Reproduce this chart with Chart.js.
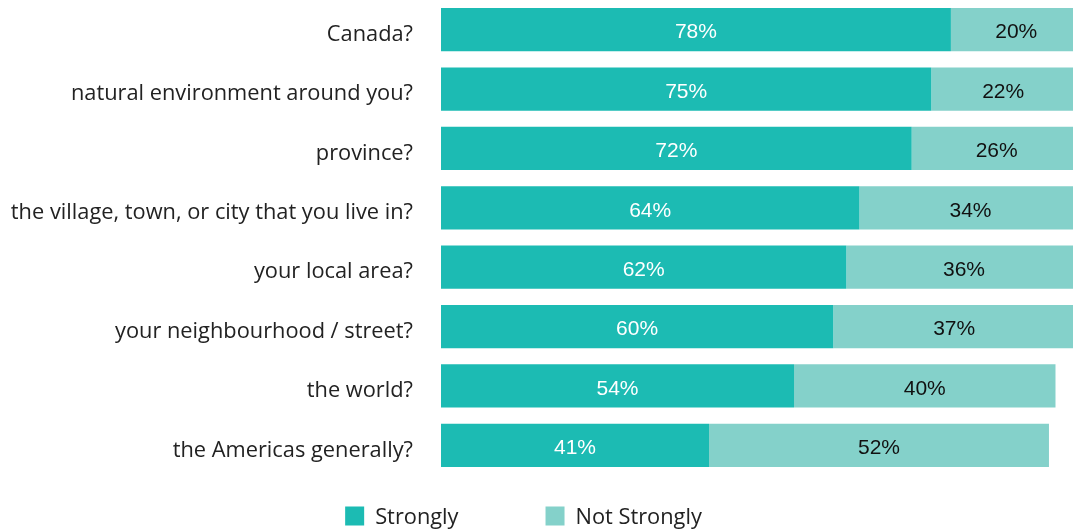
<!DOCTYPE html>
<html>
<head>
<meta charset="utf-8">
<script src="https://cdn.jsdelivr.net/npm/chart.js@4/dist/chart.umd.min.js"></script>
<style>
  html, body { margin: 0; padding: 0; background: #ffffff; overflow: hidden; }
  #wrap { width: 1073px; height: 529px; position: relative; }
</style>
</head>
<body>
<div id="wrap"><canvas id="chart" width="1073" height="529"></canvas></div>
<script>
// Survey answers: how strongly people feel attached to each place
const categories = [
  "Canada?",
  "natural environment around you?",
  "province?",
  "the village, town, or city that you live in?",
  "your local area?",
  "your neighbourhood / street?",
  "the world?",
  "the Americas generally?"
];
const strongly = [78, 75, 72, 64, 62, 60, 54, 41];
const notStrongly = [20, 22, 26, 34, 36, 37, 40, 52];
const seriesNames = ["Strongly", "Not Strongly"];

const TEAL = "#1cbbb3";
const LIGHT = "#84d1ca";
const TEXT = "#222222";
const LABEL_FONT = "'Open Sans', sans-serif";
const LABEL_SIZE = 21.8;
const VALUE_FONT = "'Liberation Sans', Arial, sans-serif";

// Percentage written in the middle of each bar segment
const segmentLabels = {
  id: "segmentLabels",
  afterDatasetsDraw(chart) {
    const ctx = chart.ctx;
    ctx.save();
    ctx.font = "21px " + VALUE_FONT;
    ctx.textAlign = "center";
    ctx.textBaseline = "middle";
    chart.data.datasets.forEach((ds, di) => {
      const meta = chart.getDatasetMeta(di);
      ctx.fillStyle = di === 0 ? "#ffffff" : "#111111";
      meta.data.forEach((bar, i) => {
        const cx = (bar.x + bar.base) / 2;
        ctx.fillText(ds.data[i] + "%", cx, bar.y + 3);
      });
    });
    ctx.restore();
  }
};

// Legend row under the bars
const bottomLegend = {
  id: "bottomLegend",
  afterDraw(chart) {
    const ctx = chart.ctx;
    const box = 19, gap = 11, spacing = 87;
    const centerX = 523.5, y = 516;
    ctx.save();
    ctx.font = LABEL_SIZE + "px " + LABEL_FONT;
    ctx.textBaseline = "middle";
    ctx.textAlign = "left";
    const items = chart.data.datasets.map(ds => ({
      text: ds.label, color: ds.backgroundColor, w: ctx.measureText(ds.label).width
    }));
    let total = 0;
    items.forEach((it, i) => { total += box + gap + it.w + (i < items.length - 1 ? spacing : 0); });
    let x = centerX - total / 2;
    items.forEach(it => {
      ctx.fillStyle = it.color;
      ctx.fillRect(x, y - box / 2, box, box);
      ctx.fillStyle = TEXT;
      ctx.fillText(it.text, x + box + gap, y + 1.5);
      x += box + gap + it.w + spacing;
    });
    ctx.restore();
  }
};

new Chart(document.getElementById("chart"), {
  type: "bar",
  data: {
    labels: categories,
    datasets: [
      { label: seriesNames[0], data: strongly, backgroundColor: TEAL, clip: false },
      { label: seriesNames[1], data: notStrongly, backgroundColor: LIGHT, clip: false }
    ]
  },
  options: {
    indexAxis: "y",
    responsive: false,
    animation: false,
    layout: { autoPadding: false, padding: { top: 0, right: 26, bottom: 54, left: 0 } },
    datasets: { bar: { barPercentage: 0.728, categoryPercentage: 1.0, borderWidth: 0 } },
    scales: {
      x: { stacked: true, display: false, min: 0, max: 92.7 },
      y: {
        stacked: true,
        grid: { display: false, drawTicks: false },
        border: { display: false },
        ticks: { color: TEXT, font: { family: LABEL_FONT, size: LABEL_SIZE }, padding: 28, labelOffset: 5 },
        afterFit(scale) {
          scale.width = 441;
          // category bands run edge to edge, so labels need no extra room above/below
          scale.paddingTop = 0;
          scale.paddingBottom = 0;
        }
      }
    },
    plugins: { legend: { display: false }, tooltip: { enabled: false } }
  },
  plugins: [segmentLabels, bottomLegend]
});
</script>
</body>
</html>
